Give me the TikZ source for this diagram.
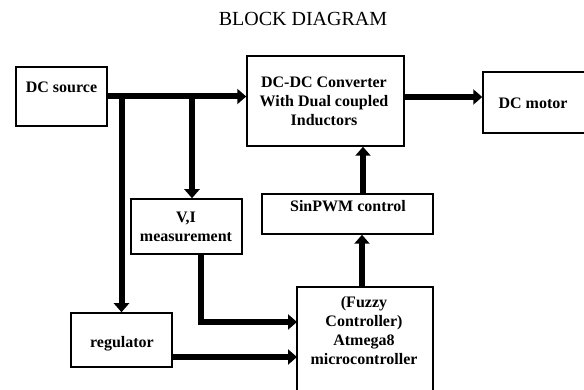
\documentclass[tikz,border=0pt]{standalone}
\usepackage{fontspec}
\setmainfont{Liberation Serif}
\usetikzlibrary{arrows.meta}
\begin{document}
\begin{tikzpicture}[x=1pt,y=-1pt,
  box/.style={draw, line width=1.5pt, inner sep=0pt},
  arr/.style={line width=6pt, -{Triangle[length=9pt,width=15pt]}},
  lbl/.style={font=\bfseries\fontsize{16}{19}\selectfont, align=center, anchor=base, inner sep=0pt},
  ttl/.style={font=\fontsize{20}{24}\selectfont, anchor=base, inner sep=0pt}]
\useasboundingbox (0,0) rectangle (584,390);
\fill[white] (0,0) rectangle (584,390);
% title
\node[ttl] (title) at (303,26) {BLOCK DIAGRAM};
% boxes
\node[box, minimum width=91pt, minimum height=59pt] (src) at (61.5,96.5) {};
\node[box, minimum width=157pt, minimum height=90pt] (conv) at (325.5,101) {};
\node[box, minimum width=117pt, minimum height=61pt] (motor) at (541.5,102.5) {};
\node[box, minimum width=171pt, minimum height=40pt] (sin) at (347.5,214) {};
\node[box, minimum width=111pt, minimum height=55pt] (vi) at (186.5,226.5) {};
\node[box, minimum width=101pt, minimum height=54pt] (reg) at (121.5,340) {};
\node[box, minimum width=136pt, minimum height=120pt] (fuz) at (365,347) {};
% labels (base = baseline of the last line)
\node[lbl] (tsrc) at (61.5,93) {DC source};
\node[lbl] (tconv) at (324,126) {DC-DC Converter\\With Dual coupled\\Inductors};
\node[lbl] (tmotor) at (533,109) {DC motor};
\node[lbl] (tsin) at (348,212) {SinPWM control};
\node[lbl] (tvi) at (186,242) {V,I\\measurement};
\node[lbl] (treg) at (122,347) {regulator};
\node[lbl] (tfuz) at (364,364) {(Fuzzy\\Controller)\\Atmega8\\microcontroller};
% connector points
\coordinate (bvi) at (192,97);
\coordinate (dvi) at (201,254);
\coordinate (ifuz) at (297,322);
\coordinate (rfuz) at (297,357);
\coordinate (up1) at (362,287);
\coordinate (up2) at (363,194);
% connectors
\draw[arr] (src.east) -- (src.east -| conv.west);
\draw[arr] ([yshift=4pt]conv.east) -- ([yshift=4pt]conv.east -| motor.west);
\draw[arr] (src.east -| reg.north) -- (reg.north);
\draw[arr] (bvi) -- (bvi |- vi.north);
\draw[arr] (dvi) |- (ifuz);
\draw[arr] (reg.east |- rfuz) -- (rfuz);
\draw[arr] (up1) -- (up1 |- sin.south);
\draw[arr] (up2) -- (up2 |- conv.south);
\end{tikzpicture}
\end{document}
